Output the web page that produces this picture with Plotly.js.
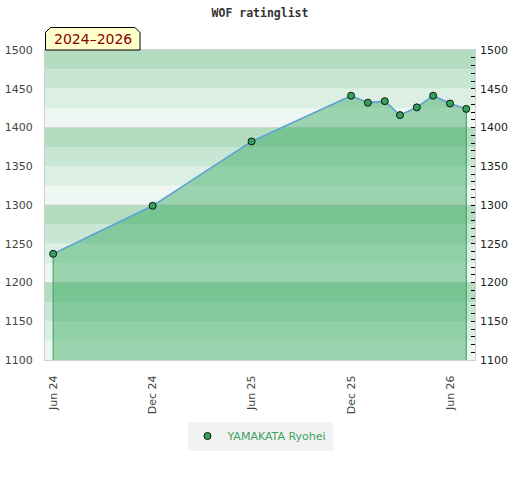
<!DOCTYPE html>
<html>
<head>
<meta charset="utf-8">
<script src="https://cdn.plot.ly/plotly-3.0.1.min.js"></script>
<style>html,body{margin:0;padding:0;background:#fff;}#chart{width:520px;height:480px;}</style>
</head>
<body>
<div id="chart"></div>
<script>
// ---- data ----
const dates = ['2024-06-01','2024-12-01','2025-06-01','2025-12-01','2026-01-01','2026-02-01','2026-03-01','2026-04-01','2026-05-01','2026-06-01','2026-07-01'];
const ratings = [1237, 1299, 1382, 1441, 1432, 1434, 1416, 1426, 1441, 1431, 1424];
const playerName = 'YAMAKATA Ryohei';
const periodLabel = '2024\u20132026';
const chartTitle = 'WOF ratinglist';

// ---- style ----
const yMin = 1100, yMax = 1500;
const bandStep = 25;
const bandColors = ['#b3dcc1', '#c8e6d4', '#dcefe3', '#eef7f1'];

// plot area in pixels
const W = 520, H = 480, mL = 45, mR = 45, mT = 50, mB = 120;
const pw = W - mL - mR, ph = H - mT - mB;
const px = v => (v - mL) / pw;
const py = v => (H - mB - v) / ph;

const shapes = [];
for (let lo = yMin; lo < yMax; lo += bandStep) {
  const k = ((yMax - (lo + bandStep)) / bandStep) % 4;
  shapes.push({type:'rect', xref:'paper', yref:'y', x0:0, x1:1, y0:lo, y1:lo + bandStep,
    fillcolor: bandColors[k], line:{width:0}, layer:'below'});
}
for (let g = yMin + 100; g < yMax; g += 100) {
  shapes.push({type:'line', xref:'paper', yref:'y', x0:0, x1:1, y0:g, y1:g,
    line:{color:'#d4d4d4', width:1}, layer:'below'});
}
// label box with chamfered top corners
const bx0 = px(45.5), bx1 = px(140), by0 = py(50), by1 = py(27.5);
const cx = 5 / pw, cy = 5 / ph;
shapes.push({type:'path', xref:'paper', yref:'paper',
  path: `M ${bx0},${by0} L ${bx0},${by1 - cy} L ${bx0 + cx},${by1} L ${bx1 - cx},${by1} L ${bx1},${by1 - cy} L ${bx1},${by0} Z`,
  fillcolor:'#ffffcc', line:{color:'#000', width:1}, layer:'above'});

const fillX = [dates[0]].concat(dates, [dates[dates.length - 1]]);
const fillY = [yMin].concat(ratings, [yMin]);

const traces = [
  {x: fillX, y: fillY, type:'scatter', mode:'lines', fill:'toself',
   fillcolor:'rgba(40,163,83,0.42)', line:{color:'#36a05c', width:1},
   hoverinfo:'skip', showlegend:false},
  {x: dates, y: ratings, type:'scatter', mode:'lines+markers', name: playerName,
   line:{color:'#62a2dc', width:1.5},
   marker:{size:7, color:'#34a25a', line:{color:'#111', width:1}},
   showlegend:false},
  {x:[null], y:[null], type:'scatter', mode:'markers', name: playerName,
   marker:{size:7, color:'#34a25a', line:{color:'#111', width:1}}, showlegend:true},
  {x:[dates[0]], y:[ratings[0]], yaxis:'y2', type:'scatter', mode:'markers',
   marker:{opacity:0}, hoverinfo:'skip', showlegend:false}
];

const layout = {
  width: W, height: H,
  margin: {l:mL, r:mR, t:mT, b:mB, pad:0},
  paper_bgcolor:'#fff', plot_bgcolor:'rgba(0,0,0,0)',
  font: {family:'DejaVu Sans', size:11, color:'#444'},
  title: {text:'<b>' + chartTitle + '</b>', font:{family:'DejaVu Sans Mono', size:11.5, color:'#333'},
    x:0.5, xanchor:'center', y:1 - 13/H, yanchor:'middle', yref:'container'},
  xaxis: {type:'date', range:['2024-05-17','2026-07-17'], tick0:'2024-06-01', dtick:'M6',
    tickformat:'%b %y', tickangle:-90, tickfont:{size:11, color:'#444'},
    showgrid:false, zeroline:false, showline:true, linecolor:'#d0d0d0', linewidth:1, mirror:true,
    ticks:'', ticklabelstandoff:10, fixedrange:true},
  yaxis: {range:[yMin, yMax], dtick:50, tick0:yMin, tickfont:{size:11, color:'#444'},
    showgrid:false, zeroline:false, showline:true, linecolor:'#d0d0d0', linewidth:1, mirror:true,
    ticks:'', ticklabelstandoff:9, fixedrange:true},
  yaxis2: {overlaying:'y', side:'right', range:[yMin, yMax], dtick:50, tick0:yMin,
    tickfont:{size:11, color:'#222'}, showgrid:false, zeroline:false, showline:false,
    ticks:'inside', ticklen:4, tickcolor:'#000', tickwidth:1, ticklabelstandoff:4,
    minor:{dtick:10, ticks:'inside', ticklen:4, tickcolor:'#000', tickwidth:1, showgrid:false},
    fixedrange:true},
  legend: {orientation:'h', x:0.5, xanchor:'center', y:py(436), yanchor:'middle',
    bgcolor:'#f2f2f2', font:{size:11, color:'#3aa35f'}, itemwidth:30},
  shapes: shapes,
  annotations: [{xref:'paper', yref:'paper', x:(bx0 + bx1) / 2, y:(by0 + by1) / 2,
    text: periodLabel, showarrow:false, xanchor:'center', yanchor:'middle',
    font:{family:'DejaVu Sans', size:14, color:'#8b0000'}}]
};

Plotly.newPlot('chart', traces, layout, {displayModeBar:false, staticPlot:true});
</script>
</body>
</html>
